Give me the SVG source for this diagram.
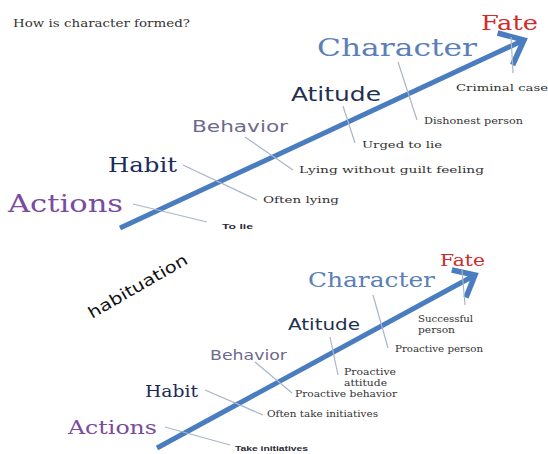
<svg xmlns="http://www.w3.org/2000/svg" width="548" height="454" viewBox="0 0 548 454">
  <style>
    .serif { font-family: "DejaVu Serif", "Liberation Serif", serif; }
    .sans { font-family: "DejaVu Sans", "Liberation Sans", sans-serif; }
    .small { font-family: "DejaVu Serif", "Liberation Serif", serif; font-size: 10px; fill: #333333; }
    .tiny { font-family: "Liberation Sans", "DejaVu Sans", sans-serif; font-size: 8px; font-weight: bold; fill: #2a2a3a; }
    .fate { fill: #d42a2a; }
    .character { fill: #5b80b8; }
    .atitude { fill: #1f3050; }
    .behavior { fill: #6d6a8e; }
    .habit { fill: #1c2a5c; }
    .actions { fill: #7a4c9e; }
    .bone { stroke: #a9b6c8; stroke-width: 1.2; fill: none; }
    .spine { stroke: #4a7cc0; stroke-width: 5; fill: none; stroke-linecap: butt; }
    .head { stroke: #4a7cc0; stroke-width: 5.5; fill: none; stroke-linejoin: miter; stroke-linecap: butt; }
  </style>

  <text class="serif" x="13" y="27" font-size="11" fill="#333333" textLength="177" lengthAdjust="spacingAndGlyphs">How is character formed?</text>

  <!-- first chain: actions to fate -->
  <g id="connectors-top">
    <line class="spine" x1="120" y1="228" x2="521" y2="41.5"/>
    <path class="head" d="M512.6 65 L524 40 L497.6 33"/>
    <line class="bone" x1="133" y1="204" x2="207" y2="222"/>
    <line class="bone" x1="183" y1="165" x2="257" y2="200"/>
    <line class="bone" x1="245" y1="137" x2="293" y2="170"/>
    <line class="bone" x1="343" y1="106" x2="355" y2="143"/>
    <line class="bone" x1="398" y1="62" x2="417" y2="120"/>
    <line class="bone" x1="511" y1="37" x2="513" y2="73"/>
  </g>
  <g id="top-actions">
    <text class="serif actions" x="8" y="212" font-size="24" textLength="115" lengthAdjust="spacingAndGlyphs">Actions</text>
    <text class="tiny" x="222" y="229" textLength="31" lengthAdjust="spacingAndGlyphs">To lie</text>
  </g>
  <g id="top-habit">
    <text class="serif habit" x="108" y="172" font-size="20" textLength="69" lengthAdjust="spacingAndGlyphs">Habit</text>
    <text class="small" x="263" y="203" textLength="76" lengthAdjust="spacingAndGlyphs">Often lying</text>
  </g>
  <g id="top-behavior">
    <text class="sans behavior" x="192" y="132" font-size="16" textLength="96" lengthAdjust="spacingAndGlyphs">Behavior</text>
    <text class="small" x="299" y="173" textLength="185" lengthAdjust="spacingAndGlyphs">Lying without guilt feeling</text>
  </g>
  <g id="top-atitude">
    <text class="sans atitude" x="291" y="101" font-size="19" textLength="90" lengthAdjust="spacingAndGlyphs">Atitude</text>
    <text class="small" x="362" y="148" textLength="80" lengthAdjust="spacingAndGlyphs">Urged to lie</text>
  </g>
  <g id="top-character">
    <text class="serif character" x="317" y="56" font-size="25" textLength="160" lengthAdjust="spacingAndGlyphs">Character</text>
    <text class="small" x="424" y="124" textLength="99" lengthAdjust="spacingAndGlyphs">Dishonest person</text>
  </g>
  <g id="top-fate">
    <text class="serif fate" x="481" y="30" font-size="21" textLength="57" lengthAdjust="spacingAndGlyphs">Fate</text>
    <text class="small" x="456" y="91" textLength="92" lengthAdjust="spacingAndGlyphs">Criminal case</text>
  </g>

  <text class="sans" x="0" y="0" font-size="16" fill="#111111" textLength="112" lengthAdjust="spacingAndGlyphs" transform="translate(92 319) rotate(-30)">habituation</text>

  <!-- second chain: actions to fate -->
  <g id="connectors-bottom">
    <line class="spine" x1="157" y1="448" x2="472.5" y2="276.5"/>
    <path class="head" d="M466 297.5 L475 275 L451.8 270"/>
    <line class="bone" x1="165" y1="427" x2="230" y2="445"/>
    <line class="bone" x1="205" y1="390" x2="263" y2="415"/>
    <line class="bone" x1="255" y1="362" x2="292" y2="393"/>
    <line class="bone" x1="330" y1="337" x2="338" y2="375"/>
    <line class="bone" x1="373" y1="295" x2="388" y2="348"/>
    <line class="bone" x1="462" y1="270" x2="465" y2="305"/>
  </g>
  <g id="bottom-actions">
    <text class="serif actions" x="68" y="434" font-size="19" textLength="89" lengthAdjust="spacingAndGlyphs">Actions</text>
    <text class="tiny" x="235" y="451" textLength="73" lengthAdjust="spacingAndGlyphs">Take initiatives</text>
  </g>
  <g id="bottom-habit">
    <text class="serif habit" x="145" y="397" font-size="16" textLength="53" lengthAdjust="spacingAndGlyphs">Habit</text>
    <text class="small" x="267" y="417" font-size="9.5" textLength="111" lengthAdjust="spacingAndGlyphs">Often take initiatives</text>
  </g>
  <g id="bottom-behavior">
    <text class="sans behavior" x="210" y="360" font-size="13.5" textLength="77" lengthAdjust="spacingAndGlyphs">Behavior</text>
    <text class="small" x="295" y="397" font-size="9.5" textLength="102" lengthAdjust="spacingAndGlyphs">Proactive behavior</text>
  </g>
  <g id="bottom-atitude">
    <text class="sans atitude" x="288" y="330" font-size="16" textLength="72" lengthAdjust="spacingAndGlyphs">Atitude</text>
    <text class="small" x="344" y="375" font-size="9.5" textLength="52" lengthAdjust="spacingAndGlyphs">Proactive</text>
    <text class="small" x="344" y="386" font-size="9.5" textLength="43" lengthAdjust="spacingAndGlyphs">attitude</text>
  </g>
  <g id="bottom-character">
    <text class="serif character" x="308" y="287" font-size="21" textLength="127" lengthAdjust="spacingAndGlyphs">Character</text>
    <text class="small" x="395" y="352" font-size="9.5" textLength="88" lengthAdjust="spacingAndGlyphs">Proactive person</text>
  </g>
  <g id="bottom-fate">
    <text class="serif fate" x="440" y="266" font-size="17" textLength="45" lengthAdjust="spacingAndGlyphs">Fate</text>
    <text class="small" x="418" y="322" font-size="9.5" textLength="55" lengthAdjust="spacingAndGlyphs">Successful</text>
    <text class="small" x="418" y="333" font-size="9.5" textLength="37" lengthAdjust="spacingAndGlyphs">person</text>
  </g>
</svg>
